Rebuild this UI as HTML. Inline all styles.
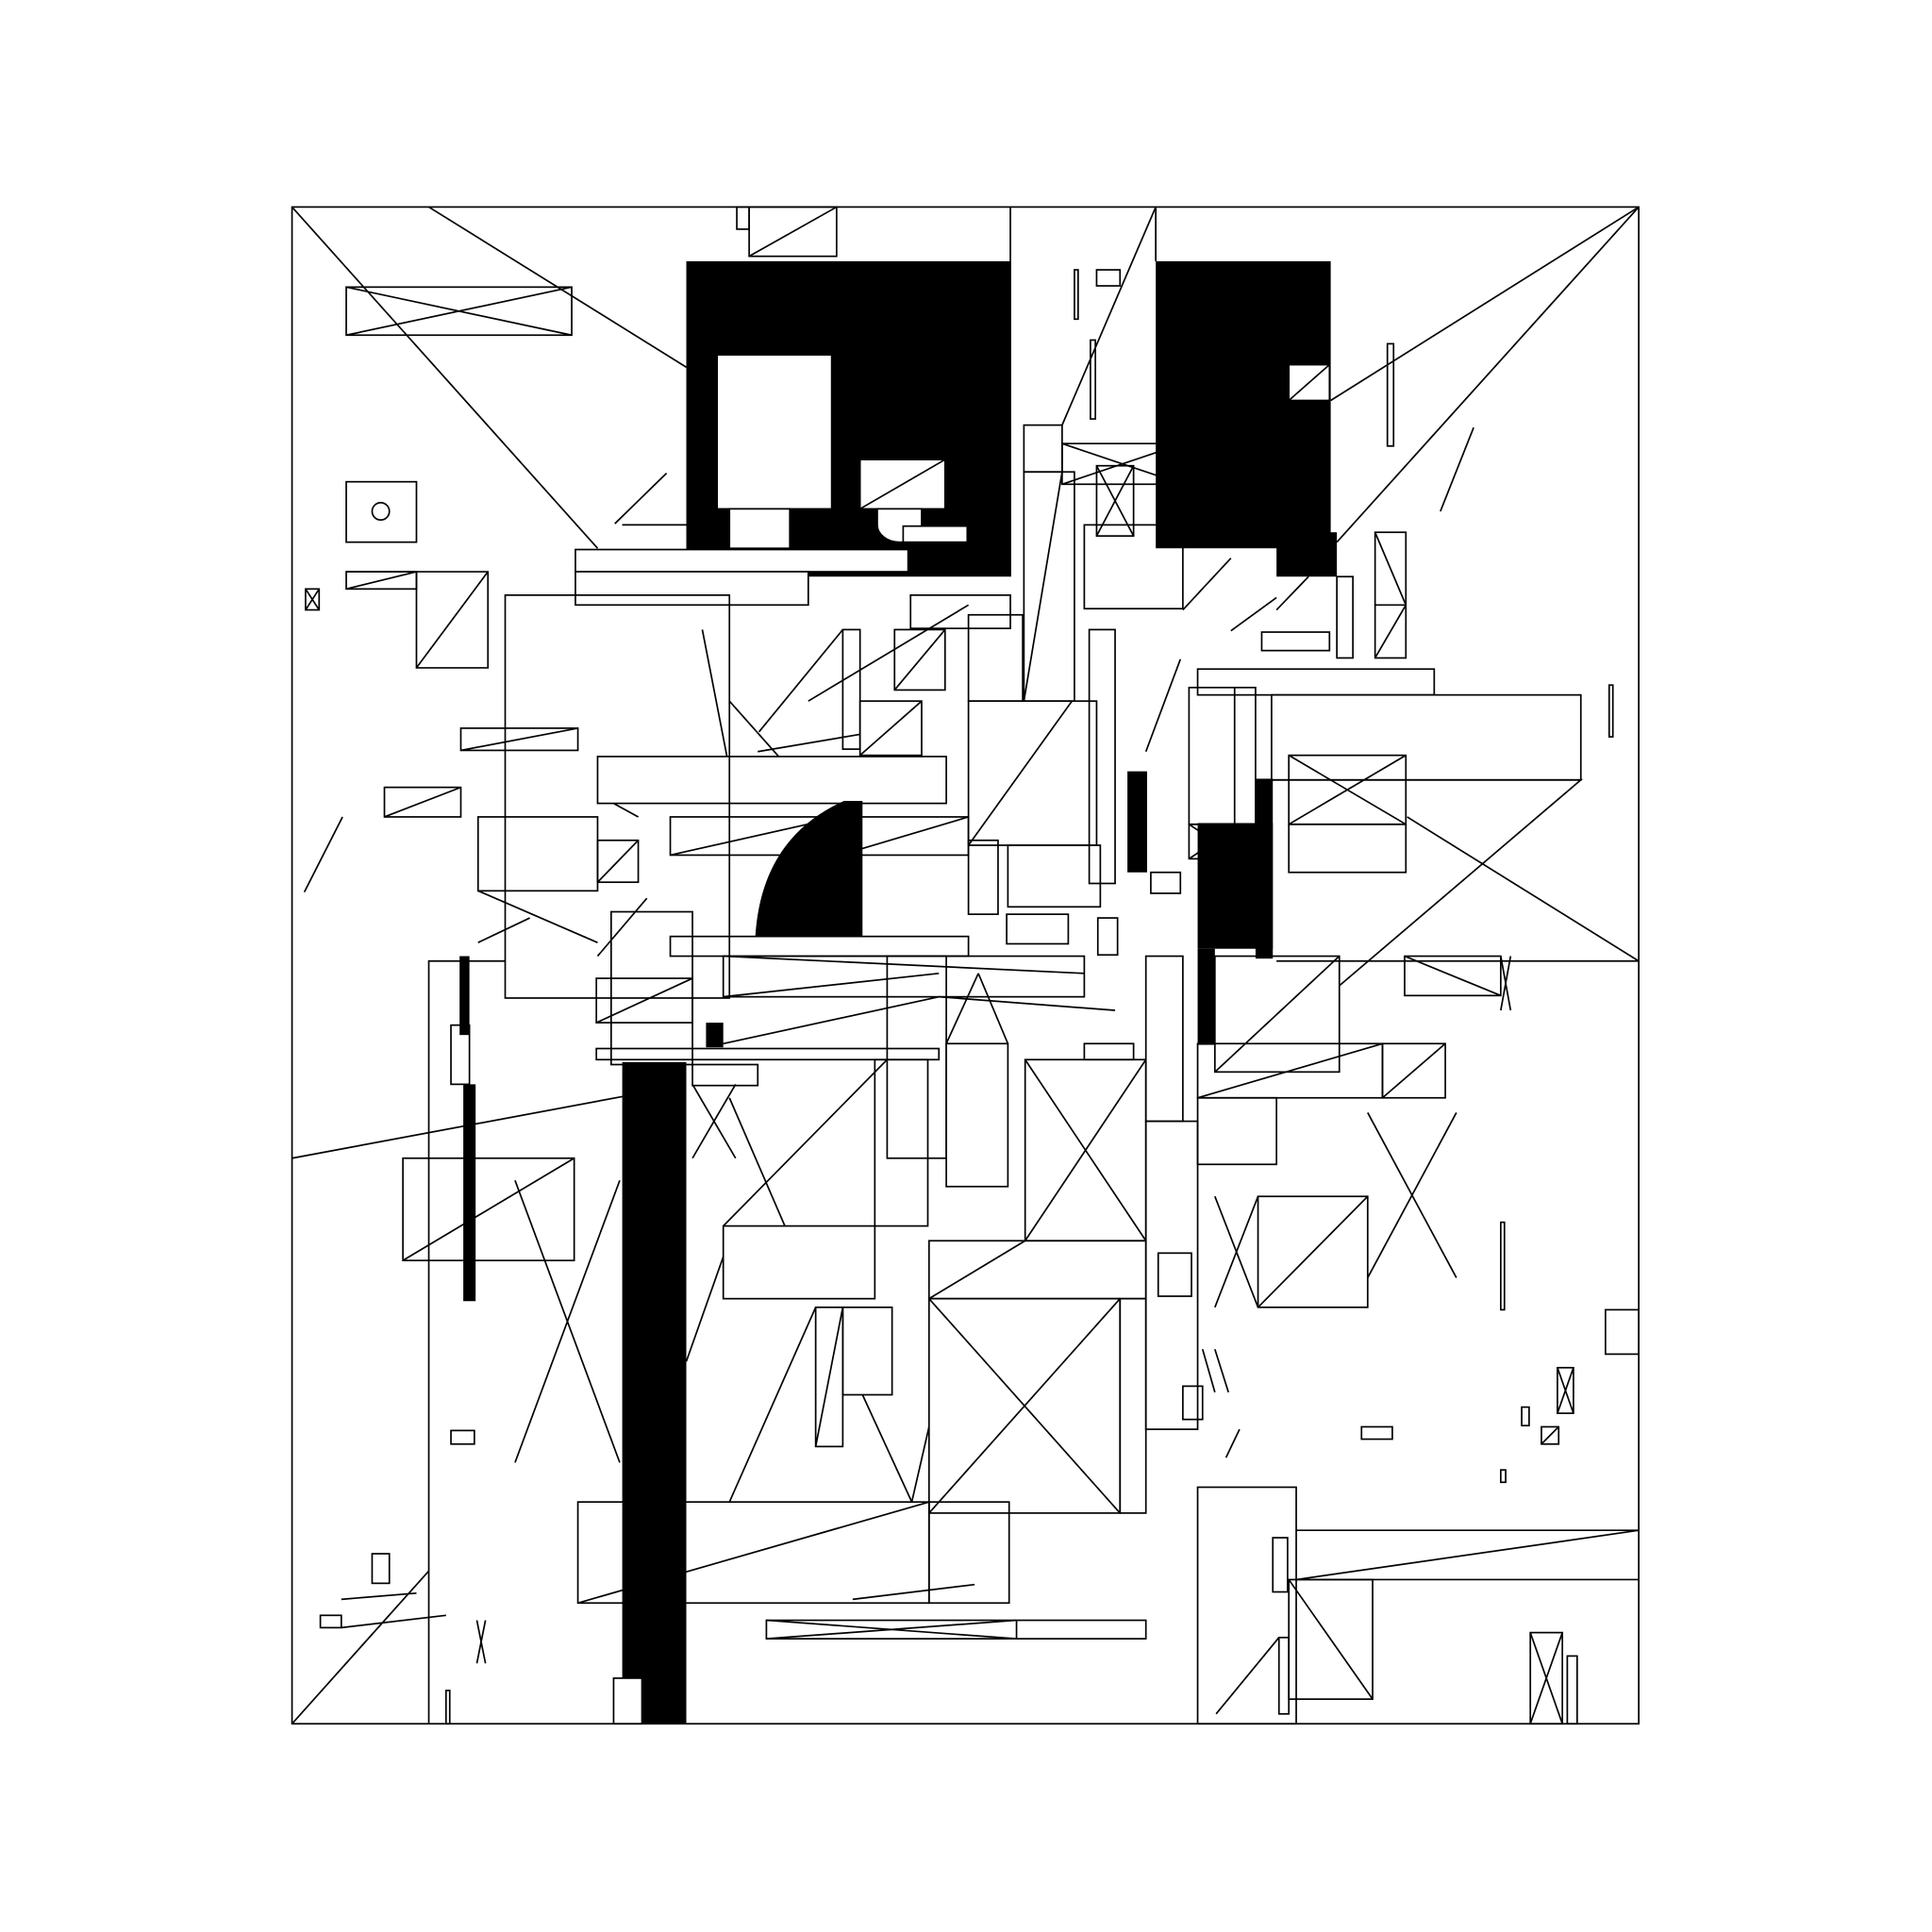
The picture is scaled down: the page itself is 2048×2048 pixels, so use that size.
<!DOCTYPE html>
<html><head><meta charset="utf-8"><style>html,body{margin:0;padding:0;background:#fff}svg{display:block}</style></head>
<body>
<svg width="2048" height="2048" viewBox="0 0 1568 1568" xmlns="http://www.w3.org/2000/svg">
<g fill="#000" stroke="none">
<rect x="557" y="212" width="263" height="256"/>
<rect x="938" y="212" width="142" height="233"/>
<rect x="1036" y="432" width="49" height="36"/>
<rect x="505" y="862" width="52" height="537"/>
<rect x="376" y="880" width="10" height="176"/>
<rect x="373" y="776" width="8" height="64"/>
<rect x="972" y="668" width="61" height="102"/>
<rect x="972" y="770" width="14" height="78"/>
<rect x="915" y="626" width="16" height="82"/>
<rect x="1019" y="632" width="14" height="146"/>
<rect x="573" y="830" width="14" height="20"/>
<path d="M613 760 Q618 680 685 650 L700 650 L700 760 Z"/>
</g>
<g fill="#fff" stroke="#000" stroke-width="1.3">
<rect x="582" y="288" width="93" height="125"/>
<rect x="698" y="373" width="69" height="40"/>
<path d="M712 413 L748 413 L748 440 L730 440 A18 14 0 0 1 712 426 Z"/>
<rect x="592" y="413" width="49" height="32"/>
<rect x="733" y="427" width="52" height="13"/>
<rect x="1046" y="296" width="33" height="29"/>
<rect x="498" y="1362" width="23" height="37"/>
<rect x="467" y="446" width="270" height="18"/>
<rect x="467" y="464" width="189" height="27"/>
</g>
<g fill="none" stroke="#000" stroke-width="1.3">
<line x1="698" y1="413" x2="767" y2="373"/>
<line x1="1046" y1="325" x2="1079" y2="296"/>
<rect x="237" y="168" width="1093" height="1231"/>
<line x1="237" y1="168" x2="485" y2="445"/>
<line x1="348" y1="168" x2="557" y2="298"/>
<line x1="1330" y1="168" x2="1080" y2="325"/>
<line x1="1330" y1="168" x2="1085" y2="440"/>
<line x1="820" y1="168" x2="820" y2="468"/>
<line x1="938" y1="168" x2="938" y2="212"/>
<line x1="938" y1="168" x2="862" y2="345"/>
<rect x="608" y="168" width="71" height="40"/><line x1="608" y1="208" x2="679" y2="168"/>
<rect x="598" y="168" width="10" height="18"/>
<rect x="281" y="233" width="183" height="39"/><line x1="281" y1="233" x2="464" y2="272"/><line x1="281" y1="272" x2="464" y2="233"/>
<rect x="281" y="391" width="57" height="49"/><circle cx="309" cy="415" r="7"/>
<rect x="248" y="478" width="11" height="17"/><line x1="248" y1="478" x2="259" y2="495"/><line x1="259" y1="478" x2="248" y2="495"/>
<polyline points="281,464 338,464 338,542 396,542 396,464 338,464"/><line x1="338" y1="542" x2="396" y2="464"/><rect x="281" y="464" width="57" height="14"/><line x1="281" y1="478" x2="338" y2="464"/>
<rect x="410" y="483" width="182" height="327"/>
<rect x="374" y="591" width="95" height="18"/><line x1="374" y1="609" x2="469" y2="591"/>
<rect x="312" y="639" width="62" height="24"/><line x1="312" y1="663" x2="374" y2="639"/>
<rect x="388" y="663" width="97" height="60"/>
<rect x="485" y="682" width="33" height="34"/><line x1="485" y1="716" x2="518" y2="682"/>
<line x1="388" y1="723" x2="485" y2="765"/><line x1="388" y1="765" x2="430" y2="745"/>
<line x1="247" y1="724" x2="278" y2="663"/>
<line x1="499" y1="425" x2="541" y2="384"/>
<rect x="485" y="614" width="283" height="38"/>
<rect x="544" y="663" width="242" height="31"/><line x1="544" y1="694" x2="682" y2="663"/><line x1="682" y1="663" x2="682" y2="694"/><line x1="682" y1="694" x2="786" y2="663"/>
<rect x="544" y="760" width="242" height="16"/>
<rect x="587" y="776" width="293" height="33"/>
<rect x="484" y="794" width="78" height="36"/><line x1="484" y1="830" x2="562" y2="794"/>
<rect x="496" y="740" width="66" height="124"/>
<rect x="484" y="851" width="278" height="9"/>
<rect x="562" y="864" width="53" height="17"/>
<line x1="237" y1="940" x2="505" y2="890"/>
<polyline points="348,1399 348,780 410,780"/>
<line x1="237" y1="1399" x2="348" y2="1275"/>
<rect x="327" y="940" width="139" height="83"/><line x1="327" y1="1023" x2="466" y2="940"/>
<line x1="418" y1="958" x2="503" y2="1187"/><line x1="503" y1="958" x2="418" y2="1187"/>
<rect x="366" y="832" width="15" height="48"/>
<rect x="366" y="1161" width="19" height="11"/>
<rect x="302" y="1261" width="14" height="24"/>
<rect x="260" y="1311" width="17" height="10"/>
<line x1="277" y1="1298" x2="338" y2="1293"/><line x1="277" y1="1321" x2="362" y2="1311"/>
<rect x="469" y="1219" width="285" height="82"/><line x1="469" y1="1301" x2="754" y2="1219"/>
<rect x="754" y="1219" width="65" height="82"/>
<rect x="622" y="1315" width="308" height="15"/><line x1="622" y1="1315" x2="825" y2="1330"/><line x1="622" y1="1330" x2="825" y2="1315"/><line x1="825" y1="1315" x2="825" y2="1330"/>
<line x1="692" y1="1298" x2="791" y2="1286"/>
<rect x="587" y="995" width="123" height="59"/>
<rect x="662" y="1061" width="22" height="113"/><line x1="662" y1="1174" x2="684" y2="1061"/>
<rect x="684" y="1061" width="40" height="71"/>
<rect x="754" y="1054" width="155" height="174"/><line x1="754" y1="1054" x2="909" y2="1228"/><line x1="909" y1="1054" x2="754" y2="1228"/>
<rect x="909" y="1054" width="21" height="174"/>
<rect x="754" y="1007" width="176" height="47"/><line x1="754" y1="1054" x2="832" y2="1007"/>
<rect x="832" y="860" width="98" height="147"/><line x1="832" y1="860" x2="930" y2="1007"/><line x1="930" y1="860" x2="832" y2="1007"/>
<rect x="710" y="860" width="43" height="135"/>
<rect x="768" y="847" width="50" height="116"/>
<rect x="930" y="776" width="30" height="134"/>
<rect x="930" y="910" width="42" height="250"/>
<rect x="940" y="1017" width="27" height="35"/>
<rect x="960" y="1125" width="16" height="27"/>
<rect x="972" y="1207" width="80" height="192"/>
<rect x="1046" y="1282" width="68" height="97"/><line x1="1046" y1="1282" x2="1114" y2="1379"/>
<rect x="1033" y="1248" width="12" height="44"/>
<line x1="1052" y1="1242" x2="1330" y2="1242"/><line x1="1052" y1="1282" x2="1330" y2="1282"/><line x1="1052" y1="1282" x2="1330" y2="1242"/>
<line x1="987" y1="1391" x2="1038" y2="1329"/><rect x="1038" y="1329" width="8" height="62"/>
<rect x="1242" y="1325" width="26" height="74"/><line x1="1242" y1="1325" x2="1268" y2="1399"/><line x1="1268" y1="1325" x2="1242" y2="1399"/>
<rect x="1272" y="1344" width="8" height="55"/>
<rect x="1021" y="971" width="89" height="90"/><line x1="1021" y1="1061" x2="1110" y2="971"/>
<line x1="986" y1="971" x2="1021" y2="1061"/><line x1="986" y1="1061" x2="1021" y2="971"/>
<line x1="1110" y1="903" x2="1182" y2="1037"/><line x1="1182" y1="903" x2="1110" y2="1037"/>
<rect x="986" y="776" width="101" height="94"/><line x1="986" y1="870" x2="1087" y2="776"/>
<rect x="972" y="847" width="150" height="44"/><line x1="972" y1="891" x2="1122" y2="847"/>
<rect x="1122" y="847" width="51" height="44"/><line x1="1122" y1="891" x2="1173" y2="847"/>
<rect x="972" y="891" width="64" height="54"/>
<rect x="1140" y="776" width="78" height="32"/><line x1="1140" y1="776" x2="1218" y2="808"/>
<polyline points="1087,800 1283,633 1032,633"/>
<polyline points="1036,780 1330,780"/>
<line x1="1142" y1="663" x2="1330" y2="780"/>
<rect x="1032" y="564" width="251" height="69"/>
<rect x="972" y="543" width="192" height="21"/>
<rect x="1046" y="613" width="95" height="56"/><line x1="1046" y1="613" x2="1141" y2="669"/><line x1="1141" y1="613" x2="1046" y2="669"/>
<rect x="1046" y="669" width="95" height="39"/>
<rect x="965" y="558" width="54" height="111"/><line x1="1002" y1="558" x2="1002" y2="669"/>
<rect x="965" y="669" width="42" height="28"/><line x1="965" y1="669" x2="1007" y2="697"/><line x1="1007" y1="669" x2="965" y2="697"/>
<rect x="1116" y="432" width="25" height="102"/><line x1="1116" y1="491" x2="1141" y2="491"/><line x1="1116" y1="432" x2="1141" y2="491"/><line x1="1116" y1="534" x2="1141" y2="491"/>
<rect x="1085" y="468" width="13" height="66"/>
<rect x="1024" y="513" width="55" height="15"/>
<rect x="1126" y="279" width="5" height="83"/>
<line x1="1169" y1="415" x2="1196" y2="347"/>
<rect x="1306" y="556" width="3" height="42"/>
<rect x="1303" y="1063" width="27" height="36"/>
<rect x="1264" y="1110" width="13" height="37"/><line x1="1264" y1="1110" x2="1277" y2="1147"/><line x1="1277" y1="1110" x2="1264" y2="1147"/>
<rect x="1251" y="1158" width="14" height="14"/><line x1="1251" y1="1172" x2="1265" y2="1158"/>
<rect x="1105" y="1158" width="25" height="10"/>
<rect x="1235" y="1142" width="6" height="15"/>
<rect x="1218" y="1193" width="4" height="10"/>
<rect x="1218" y="992" width="3" height="71"/>
<rect x="862" y="360" width="98" height="33"/><line x1="862" y1="360" x2="960" y2="393"/><line x1="862" y1="393" x2="960" y2="360"/>
<rect x="890" y="378" width="30" height="57"/><line x1="890" y1="378" x2="920" y2="435"/><line x1="920" y1="378" x2="890" y2="435"/>
<rect x="880" y="426" width="80" height="68"/>
<rect x="831" y="345" width="31" height="38"/>
<rect x="831" y="383" width="41" height="186"/><line x1="831" y1="569" x2="862" y2="383"/>
<rect x="890" y="219" width="19" height="13"/>
<rect x="872" y="219" width="3" height="40"/>
<rect x="885" y="276" width="4" height="64"/>
<rect x="786" y="499" width="44" height="70"/>
<rect x="786" y="569" width="104" height="117"/><line x1="786" y1="686" x2="870" y2="569"/>
<rect x="726" y="511" width="41" height="49"/><line x1="726" y1="560" x2="767" y2="511"/>
<rect x="698" y="569" width="50" height="44"/><line x1="698" y1="613" x2="748" y2="569"/>
<rect x="684" y="511" width="14" height="97"/>
<rect x="884" y="511" width="21" height="206"/>
<rect x="739" y="483" width="81" height="27"/>
<rect x="818" y="686" width="75" height="50"/>
<rect x="786" y="682" width="24" height="60"/>
<rect x="817" y="742" width="50" height="24"/>
<rect x="891" y="745" width="16" height="30"/>
<rect x="934" y="708" width="24" height="17"/>
<rect x="880" y="847" width="40" height="13"/>
<rect x="720" y="776" width="48" height="164"/>
<line x1="505" y1="426" x2="557" y2="426"/>
<line x1="616" y1="594" x2="684" y2="511"/>
<line x1="656" y1="569" x2="786" y2="491"/>
<line x1="570" y1="511" x2="590" y2="614"/>
<line x1="592" y1="569" x2="632" y2="614"/>
<line x1="615" y1="610" x2="698" y2="596"/>
<line x1="485" y1="776" x2="525" y2="729"/>
<line x1="498" y1="652" x2="518" y2="663"/>
<line x1="562" y1="940" x2="597" y2="880"/><line x1="562" y1="880" x2="597" y2="940"/>
<line x1="592" y1="1219" x2="662" y2="1061"/>
<line x1="700" y1="1132" x2="740" y2="1219"/>
<line x1="740" y1="1219" x2="754" y2="1158"/>
<line x1="592" y1="891" x2="637" y2="995"/>
<line x1="557" y1="1105" x2="587" y2="1020"/>
<line x1="587" y1="995" x2="720" y2="860"/>
<line x1="587" y1="776" x2="880" y2="790"/>
<line x1="587" y1="809" x2="762" y2="790"/>
<line x1="587" y1="847" x2="762" y2="809"/>
<line x1="762" y1="809" x2="905" y2="820"/>
<line x1="768" y1="847" x2="794" y2="790"/>
<line x1="794" y1="790" x2="818" y2="847"/>
<line x1="960" y1="495" x2="999" y2="453"/>
<line x1="999" y1="512" x2="1036" y2="485"/>
<line x1="1036" y1="495" x2="1062" y2="468"/>
<line x1="930" y1="610" x2="958" y2="535"/>
<line x1="986" y1="1095" x2="997" y2="1130"/><line x1="986" y1="1130" x2="976" y2="1095"/>
<line x1="995" y1="1183" x2="1006" y2="1160"/>
<line x1="387" y1="1315" x2="394" y2="1350"/><line x1="394" y1="1315" x2="387" y2="1350"/>
<rect x="362" y="1372" width="3" height="27"/>
<line x1="1218" y1="820" x2="1226" y2="776"/><line x1="1226" y1="820" x2="1218" y2="776"/>
</g>
</svg>
</body></html>
